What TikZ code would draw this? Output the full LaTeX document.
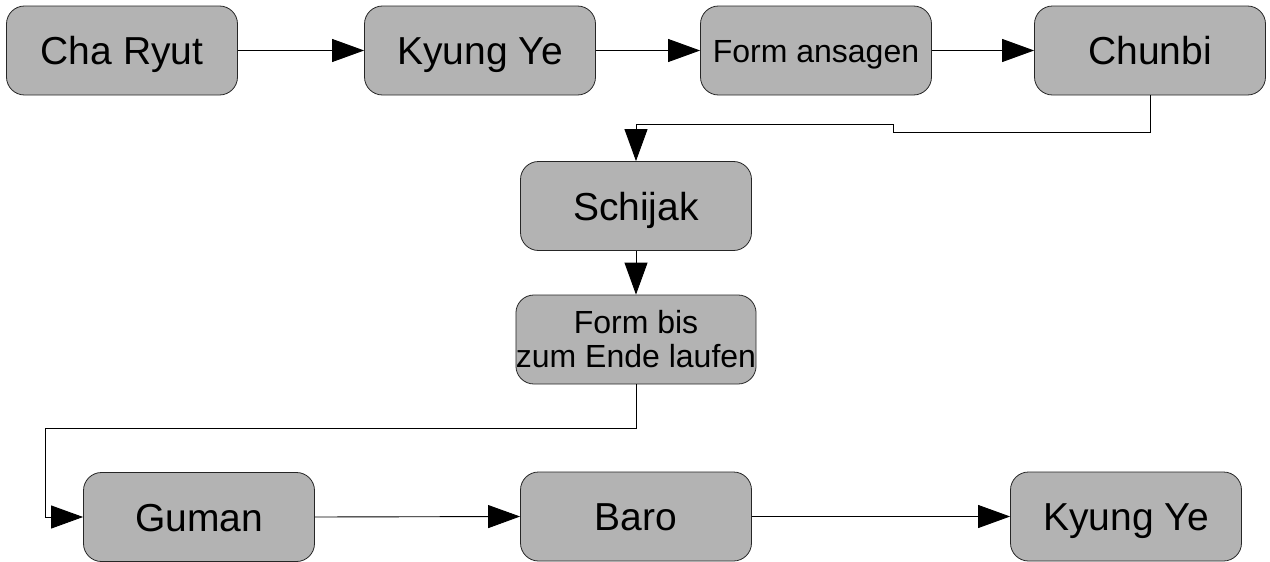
\documentclass[tikz,border=0pt]{standalone}
\usepackage{fontspec}
\setmainfont{Liberation Sans}
\usetikzlibrary{arrows.meta}
\definecolor{boxgray}{HTML}{B3B3B3}
\begin{document}
\begin{tikzpicture}[x=1pt,y=-1pt,
  box/.style={draw=black!85, fill=boxgray, rounded corners=18pt, minimum width=231pt,
    minimum height=89pt, inner sep=0pt, line width=0.8pt, align=center,
    font=\fontsize{39}{44}\selectfont, text height=28pt, text depth=0pt},
  smalltext/.style={font=\fontsize{32}{34}\selectfont, text height=23pt, text depth=0pt},
  twoline/.style={font=\fontsize{32}{34}\selectfont, text height=, text depth=},
  conn/.style={line width=0.9pt, -{Triangle[length=32pt,width=23pt]}}]
\useasboundingbox (0,0) rectangle (1270,562);
\node[box] (a) at (122,50.5) {Cha Ryut};
\node[box] (b) at (480,50.5) {Kyung Ye};
\node[box,smalltext] (c) at (816,50.5) {Form ansagen};
\node[box] (d) at (1150,50.5) {Chunbi};
\node[box] (e) at (636,206) {Schijak};
\node[box,twoline] (f) at (636,339.5) {Form bis\\zum Ende laufen};
\node[box] (g) at (199,517) {Guman};
\node[box] (h) at (636,516.5) {Baro};
\node[box] (i) at (1126,516.5) {Kyung Ye};
\coordinate (k1) at (893,132);
\coordinate (k2) at (893,124);
\coordinate (k3) at (45,428);
\draw[conn] (a.east) -- (b.west);
\draw[conn] (b.east) -- (c.west);
\draw[conn] (c.east) -- (d.west);
\draw[conn] (d.south) |- (k1) -- (k2) -| (e.north);
\draw[conn] (e.south) -- (f.north);
\draw[conn] (f.south) |- (k3) |- (g.west);
\draw[conn] (g.east) -- (h.west);
\draw[conn] (h.east) -- (i.west);
\end{tikzpicture}
\end{document}
